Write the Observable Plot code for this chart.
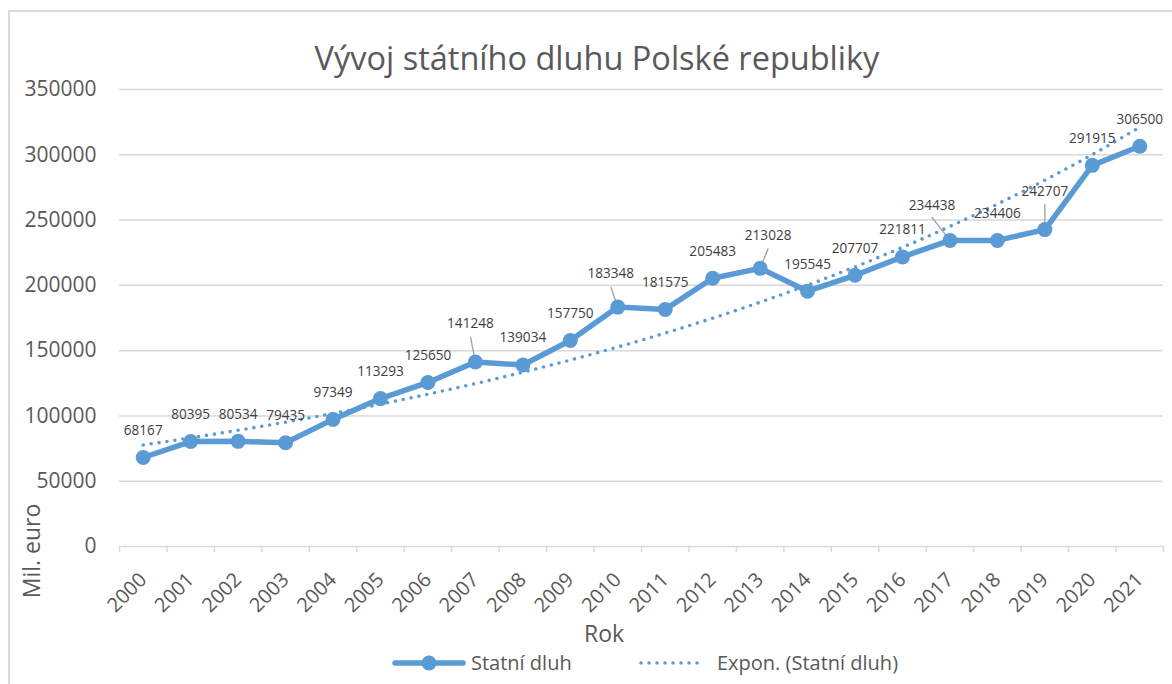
<!DOCTYPE html>
<html>
<head>
<meta charset="utf-8">
<script src="https://cdn.jsdelivr.net/npm/d3@7"></script>
<script src="https://cdn.jsdelivr.net/npm/@observablehq/plot@0.6"></script>
<style>
  html, body { margin: 0; padding: 0; background: #fff; overflow: hidden; }
  #wrap { position: relative; width: 1172px; height: 684px; overflow: hidden; font-family: "Open Sans", sans-serif; }
  #wrap svg { position: absolute; left: 0; top: 0; }
  #frame { position: absolute; left: 8px; top: 10px; width: 1300px; height: 800px; border: 2px solid #d9d9d9; box-sizing: border-box; }
</style>
</head>
<body>
<div id="wrap"><div id="frame"></div></div>
<script>
// ---- data ----
const years = [2000, 2001, 2002, 2003, 2004, 2005, 2006, 2007, 2008, 2009, 2010,
               2011, 2012, 2013, 2014, 2015, 2016, 2017, 2018, 2019, 2020, 2021];
const debt = [68167, 80395, 80534, 79435, 97349, 113293, 125650, 141248, 139034, 157750, 183348,
              181575, 205483, 213028, 195545, 207707, 221811, 234438, 234406, 242707, 291915, 306500];
const yTicks = [0, 50000, 100000, 150000, 200000, 250000, 300000, 350000];
const title = "Vývoj státního dluhu Polské republiky";
const xTitle = "Rok";
const yTitle = "Mil. euro";
const seriesName = "Statní dluh";
const trendName = "Expon. (Statní dluh)";

// label placement tweaks (style only): pixel nudges and leader lines
const labelNudge = {
  2007: {dx: -5, dy: -38, len: 25, rot: -11},
  2010: {dx: -7, dy: -33, len: 21, rot: -19},
  2013: {dx: 8, dy: -33, len: 21, rot: 22},
  2017: {dx: -18, dy: -35, len: 29, rot: -38},
  2019: {dx: 0, dy: -38, len: 25, rot: 0}
};

const data = years.map((year, i) => ({year, value: debt[i]}));

// Exponential trend (least squares on ln y, x = category index 1..n), like Excel
const n = data.length;
const xs = data.map((d, i) => i + 1);
const ls = data.map(d => Math.log(d.value));
const mx = d3.mean(xs), ml = d3.mean(ls);
const b = d3.sum(xs, (x, i) => (x - mx) * (ls[i] - ml)) / d3.sum(xs, x => (x - mx) ** 2);
const a = ml - b * mx;
const trend = d3.range(years[0], years[n - 1] + 0.001, 0.25).map(t => ({year: t, value: Math.exp(a + b * (t - years[0] + 1))}));

const blue = "#5b9bd5";
const textGray = "#595959";
const labelGray = "#404040";
const gridGray = "#d9d9d9";

const normal = data.filter(d => !labelNudge[d.year]);
const special = data.filter(d => labelNudge[d.year]);
const leaderShape = {draw(context, l) { context.moveTo(0, 0); context.lineTo(0, -l); }};

const marks = [
  Plot.gridY(yTicks, {stroke: gridGray, strokeOpacity: 1, strokeWidth: 1.5}),
  Plot.axisX(d3.range(years[0] - 0.5, years[n - 1] + 1, 1), {tickSize: 6, stroke: gridGray, strokeWidth: 1.5, tickFormat: () => "", label: null}),
  Plot.axisX(years, {tickSize: 0, tickPadding: 30, tickRotate: -45, dx: 0, fontSize: 20, fill: textGray, tickFormat: d => String(d), label: null}),
  Plot.axisY(yTicks, {tickSize: 0, tickPadding: 23, fontSize: 21, fill: textGray, tickFormat: d3.format("d"), label: null}),
  Plot.line(trend, {x: "year", y: "value", stroke: blue, strokeWidth: 3.6, strokeDasharray: "0 8", strokeLinecap: "round"}),
  ...special.map(d => Plot.vector([d], {x: "year", y: "value", length: labelNudge[d.year].len, rotate: labelNudge[d.year].rot, anchor: "start", shape: leaderShape, stroke: "#a6a6a6", strokeWidth: 1.4})),
  Plot.line(data, {x: "year", y: "value", stroke: blue, strokeWidth: 5.5, strokeLinejoin: "round"}),
  Plot.dot(data, {x: "year", y: "value", r: 7.5, fill: blue}),
  Plot.text(normal, {x: "year", y: "value", text: d => String(d.value), dy: -27, fontSize: 13.6, fill: labelGray}),
  ...special.map(d => Plot.text([d], {x: "year", y: "value", text: d => String(d.value), dx: labelNudge[d.year].dx, dy: labelNudge[d.year].dy, fontSize: 13.6, fill: labelGray}))
];

const chart = Plot.plot({
  width: 1172,
  height: 684,
  marginLeft: 119,
  marginRight: 9,
  marginTop: 89,
  marginBottom: 138,
  style: {fontFamily: "Open Sans, sans-serif", background: "transparent"},
  x: {domain: [years[0] - 0.5, years[n - 1] + 0.5], label: null},
  y: {domain: [0, 350000], label: null},
  marks
});
document.getElementById("wrap").appendChild(chart);

// ---- title, axis titles, legend ----
const deco = d3.select("#wrap").append("svg").attr("width", 1172).attr("height", 684)
  .style("font-family", "Open Sans, sans-serif");
deco.append("text").attr("x", 597).attr("y", 70).attr("text-anchor", "middle")
  .attr("font-size", 32.5).attr("fill", textGray).text(title);
deco.append("text").attr("x", 604).attr("y", 642).attr("text-anchor", "middle")
  .attr("font-size", 23).attr("fill", textGray).text(xTitle);
deco.append("text").attr("transform", "translate(40,551) rotate(-90)").attr("text-anchor", "middle")
  .attr("font-size", 23).attr("fill", textGray).text(yTitle);
const lg = deco.append("g");
lg.append("line").attr("x1", 395).attr("x2", 463).attr("y1", 663).attr("y2", 663)
  .attr("stroke", blue).attr("stroke-width", 5.5).attr("stroke-linecap", "round");
lg.append("circle").attr("cx", 429).attr("cy", 663).attr("r", 7.5).attr("fill", blue);
lg.append("text").attr("x", 471).attr("y", 670).attr("font-size", 20).attr("fill", textGray).text(seriesName);
lg.append("line").attr("x1", 641).attr("x2", 705).attr("y1", 663).attr("y2", 663)
  .attr("stroke", blue).attr("stroke-width", 3.6).attr("stroke-dasharray", "0 8").attr("stroke-linecap", "round");
lg.append("text").attr("x", 717).attr("y", 670).attr("font-size", 20).attr("fill", textGray).text(trendName);
</script>
</body>
</html>
